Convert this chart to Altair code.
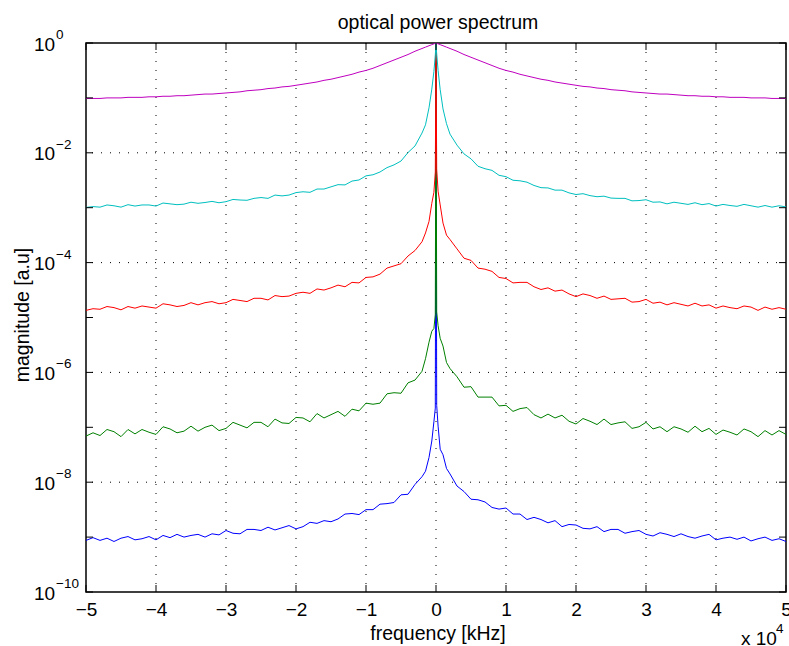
import altair as alt
import pandas as pd

# frequency grid (units of 1e4), positive side; negative side mirrors it
P = [0.01, 0.03, 0.06, 0.1, 0.15, 0.2,
     0.3, 0.4, 0.5, 0.6, 0.7, 0.8, 0.9, 1.0,
     1.1, 1.2, 1.3, 1.4, 1.5, 1.6, 1.7, 1.8,
     1.9, 2.0, 2.1, 2.2, 2.3, 2.4, 2.5, 2.6,
     2.7, 2.8, 2.9, 3.0, 3.1, 3.2, 3.3, 3.4,
     3.5, 3.6, 3.7, 3.8, 3.9, 4.0, 4.1, 4.2,
     4.3, 4.4, 4.5, 4.6, 4.7, 4.8, 4.9, 5.0]

# log10(magnitude); *_L at f = -P[i], *_R at f = +P[i]; peak at f=0 is 10^0
mag_R = [-0.005, -0.016, -0.03, -0.05, -0.075, -0.10,
         -0.15, -0.21, -0.26, -0.31, -0.36, -0.41, -0.46, -0.50,
         -0.53, -0.57, -0.60, -0.63, -0.66, -0.68, -0.71, -0.73,
         -0.75, -0.77, -0.79, -0.80, -0.82, -0.83, -0.85, -0.86,
         -0.87, -0.89, -0.90, -0.91, -0.92, -0.93, -0.93, -0.94,
         -0.95, -0.96, -0.96, -0.97, -0.97, -0.98, -0.98, -0.99,
         -0.99, -0.99, -1.00, -1.00, -1.00, -1.01, -1.01, -1.01]
mag_L = list(mag_R)

cyan_R = [-0.20, -0.50, -0.85, -1.20, -1.47, -1.66,
          -1.86, -2.02, -2.11, -2.245, -2.29, -2.32, -2.41, -2.435,
          -2.50, -2.51, -2.535, -2.595, -2.635, -2.64, -2.68, -2.68,
          -2.73, -2.76, -2.745, -2.78, -2.80, -2.79, -2.825, -2.83,
          -2.83, -2.875, -2.87, -2.855, -2.90, -2.895, -2.93, -2.90,
          -2.92, -2.94, -2.91, -2.945, -2.925, -2.97, -2.94, -2.96,
          -2.975, -2.94, -2.965, -2.99, -2.96, -2.99, -2.965, -2.985]
cyan_L = [-0.22, -0.52, -0.84, -1.18, -1.49, -1.64,
          -1.875, -1.995, -2.15, -2.22, -2.27, -2.35, -2.40, -2.42,
          -2.495, -2.515, -2.585, -2.58, -2.62, -2.66, -2.66, -2.72,
          -2.71, -2.725, -2.77, -2.785, -2.77, -2.83, -2.815, -2.83,
          -2.865, -2.86, -2.85, -2.89, -2.91, -2.885, -2.905, -2.92,
          -2.90, -2.935, -2.945, -2.93, -2.915, -2.97, -2.95, -2.95,
          -2.97, -2.945, -2.99, -2.965, -2.95, -2.99, -2.98, -2.995]

red_R = [-2.30, -2.70, -2.95, -3.28, -3.50, -3.58,
         -3.75, -3.92, -3.96, -4.10, -4.12, -4.16, -4.27, -4.29,
         -4.37, -4.36, -4.36, -4.44, -4.49, -4.46, -4.52, -4.50,
         -4.57, -4.62, -4.57, -4.60, -4.65, -4.61, -4.67, -4.66,
         -4.65, -4.72, -4.71, -4.67, -4.74, -4.72, -4.77, -4.73,
         -4.76, -4.79, -4.74, -4.79, -4.77, -4.83, -4.79, -4.82,
         -4.84, -4.79, -4.81, -4.87, -4.81, -4.85, -4.82, -4.85]
red_L = [-2.35, -2.72, -2.92, -3.25, -3.46, -3.62,
         -3.78, -3.88, -4.02, -4.06, -4.10, -4.21, -4.26, -4.27,
         -4.37, -4.36, -4.44, -4.41, -4.46, -4.50, -4.48, -4.56,
         -4.54, -4.56, -4.61, -4.62, -4.60, -4.68, -4.65, -4.65,
         -4.71, -4.69, -4.67, -4.73, -4.75, -4.71, -4.73, -4.77,
         -4.73, -4.78, -4.80, -4.77, -4.75, -4.83, -4.81, -4.79,
         -4.83, -4.80, -4.86, -4.82, -4.80, -4.85, -4.84, -4.87]

green_R = [-4.90, -5.15, -5.38, -5.52, -5.82, -5.93,
           -6.08, -6.27, -6.26, -6.45, -6.45, -6.45, -6.61, -6.60,
           -6.71, -6.66, -6.64, -6.77, -6.83, -6.76, -6.83, -6.78,
           -6.89, -6.94, -6.84, -6.89, -6.95, -6.85, -6.95, -6.92,
           -6.90, -7.02, -6.99, -6.91, -7.03, -6.99, -7.08, -6.99,
           -7.03, -7.09, -6.98, -7.08, -7.02, -7.13, -7.05, -7.09,
           -7.14, -7.03, -7.08, -7.17, -7.06, -7.14, -7.06, -7.13]
green_L = [-4.95, -5.20, -5.25, -5.45, -5.75, -5.98,
           -6.14, -6.19, -6.38, -6.37, -6.39, -6.56, -6.58, -6.56,
           -6.70, -6.67, -6.80, -6.71, -6.77, -6.83, -6.75, -6.90,
           -6.83, -6.82, -6.93, -6.92, -6.85, -6.99, -6.91, -6.91,
           -7.01, -6.96, -6.91, -7.02, -7.06, -6.96, -7.00, -7.07,
           -6.98, -7.07, -7.10, -7.03, -6.99, -7.13, -7.09, -7.04,
           -7.12, -7.04, -7.17, -7.08, -7.04, -7.15, -7.10, -7.16]

blue_R = [-6.60, -6.98, -7.40, -7.50, -7.75, -7.85,
          -8.07, -8.17, -8.31, -8.32, -8.36, -8.46, -8.49, -8.47,
          -8.58, -8.58, -8.68, -8.64, -8.68, -8.74, -8.70, -8.81,
          -8.77, -8.78, -8.84, -8.85, -8.81, -8.90, -8.86, -8.86,
          -8.93, -8.90, -8.88, -8.95, -8.98, -8.92, -8.95, -8.99,
          -8.94, -8.99, -9.02, -8.98, -8.95, -9.05, -9.02, -9.00,
          -9.04, -9.00, -9.07, -9.03, -9.00, -9.06, -9.03, -9.08]
blue_L = [-6.65, -6.90, -7.25, -7.55, -7.80, -7.90,
          -8.04, -8.22, -8.23, -8.37, -8.39, -8.40, -8.50, -8.50,
          -8.59, -8.57, -8.58, -8.67, -8.72, -8.70, -8.75, -8.73,
          -8.81, -8.85, -8.79, -8.83, -8.87, -8.82, -8.88, -8.86,
          -8.86, -8.94, -8.93, -8.88, -8.96, -8.94, -9.00, -8.95,
          -8.97, -9.00, -8.95, -9.01, -8.97, -9.05, -8.99, -9.03,
          -9.05, -8.99, -9.02, -9.08, -9.02, -9.06, -9.01, -9.06]

x_ticks = [-5, -4, -3, -2, -1, 0, 1, 2, 3, 4, 5]
x_grid = [-4, -3, -2, -1, 0, 1, 2, 3, 4]
y_ticks = [1e0, 1e-1, 1e-2, 1e-3, 1e-4, 1e-5, 1e-6, 1e-7, 1e-8, 1e-9, 1e-10]
y_grid = [1e-2, 1e-4, 1e-6, 1e-8]
y_labels = [1e0, 1e-2, 1e-4, 1e-6, 1e-8, 1e-10]
y_exps = ["0", "\u22122", "\u22124", "\u22126", "\u22128", "\u221210"]

series = [("blue", blue_L, blue_R, "#0000FF"),
          ("green", green_L, green_R, "#008000"),
          ("red", red_L, red_R, "#FF0000"),
          ("cyan", cyan_L, cyan_R, "#00BFBF"),
          ("magenta", mag_L, mag_R, "#BF00BF")]

W, H = 700, 549
FONT = "Liberation Sans"

xs = alt.Scale(domain=[-5, 5], nice=False, zero=False)
ys = alt.Scale(type="log", domain=[1e-10, 1], nice=False)
xaxis = alt.Axis(values=x_ticks, ticks=False, grid=False, domain=False,
                 labelFontSize=19, labelColor="black", labelPadding=8,
                 labelFont=FONT, title=None, labelFlush=False, format="d")
yaxis = alt.Axis(labels=False, ticks=False, grid=False, domain=False, title=None)

X = lambda: alt.X("f:Q", scale=xs, axis=xaxis)
Y = lambda: alt.Y("v:Q", scale=ys, axis=yaxis)

layers = []
# grid
gx = pd.DataFrame({"f": x_grid})
gy = pd.DataFrame({"v": y_grid})
layers.append(alt.Chart(gx).mark_rule(color="#000000", strokeWidth=1, strokeDash=[1, 8]).encode(x=X()))
layers.append(alt.Chart(gy).mark_rule(color="#000000", strokeWidth=1, strokeDash=[1, 8]).encode(y=Y()))

# curves (drawn blue first, magenta last)
for name, L, R, col in series:
    f = [-p for p in reversed(P)] + [0.0] + list(P)
    v = [10 ** e for e in reversed(L)] + [1.0] + [10 ** e for e in R]
    df = pd.DataFrame({"f": f, "v": v})
    layers.append(alt.Chart(df).mark_line(color=col, strokeWidth=1, clip=True).encode(
        x=X(), y=Y(), order="f:Q"))

# ticks (inward)
tx = pd.DataFrame({"f": x_ticks})
ty = pd.DataFrame({"v": y_ticks})
layers.append(alt.Chart(tx).mark_rule(color="black").encode(x=X(), y=alt.value(H), y2=alt.value(H - 7)))
layers.append(alt.Chart(tx).mark_rule(color="black").encode(x=X(), y=alt.value(0), y2=alt.value(7)))
layers.append(alt.Chart(ty).mark_rule(color="black").encode(y=Y(), x=alt.value(0), x2=alt.value(7)))
layers.append(alt.Chart(ty).mark_rule(color="black").encode(y=Y(), x=alt.value(W - 7), x2=alt.value(W)))

# y tick labels 10^n
yl = pd.DataFrame({"v": y_labels, "e": y_exps, "b": ["10"] * len(y_labels)})
layers.append(alt.Chart(yl).mark_text(align="left", baseline="alphabetic", fontSize=19, font=FONT,
                                      color="black", dy=7.5).encode(y=Y(), x=alt.value(-52), text="b:N"))
layers.append(alt.Chart(yl).mark_text(align="left", baseline="alphabetic", fontSize=13.5, font=FONT,
                                      color="black", dy=-4).encode(y=Y(), x=alt.value(-30), text="e:N"))

# texts
one = pd.DataFrame({"t": ["optical power spectrum"]})
layers.append(alt.Chart(one).mark_text(align="center", baseline="alphabetic", fontSize=19.5, font=FONT,
                                       color="black").encode(x=alt.value(352), y=alt.value(-14), text="t:N"))
xl = pd.DataFrame({"t": ["frequency [kHz]"]})
layers.append(alt.Chart(xl).mark_text(align="center", baseline="alphabetic", fontSize=19.5, font=FONT,
                                      color="black").encode(x=alt.value(352), y=alt.value(597), text="t:N"))
yt = pd.DataFrame({"t": ["magnitude [a.u]"]})
layers.append(alt.Chart(yt).mark_text(align="center", baseline="alphabetic", fontSize=19.5, font=FONT,
                                      color="black", angle=270).encode(x=alt.value(-57), y=alt.value(272), text="t:N"))
mult = pd.DataFrame({"t": ["x 10"]})
layers.append(alt.Chart(mult).mark_text(align="left", baseline="alphabetic", fontSize=19, font=FONT,
                                        color="black").encode(x=alt.value(655), y=alt.value(602), text="t:N"))
mexp = pd.DataFrame({"t": ["4"]})
layers.append(alt.Chart(mexp).mark_text(align="left", baseline="alphabetic", fontSize=13.5, font=FONT,
                                        color="black").encode(x=alt.value(690), y=alt.value(590), text="t:N"))

chart = alt.layer(*layers).properties(
    width=W, height=H,
    autosize=alt.AutoSizeParams(type="none"),
    padding={"left": 86, "top": 43, "right": 3, "bottom": 54},
    background="white",
).configure_view(stroke="black", strokeWidth=1.5).configure_axis(labelFont=FONT)

chart.save("out.html", embed_options={"renderer": "svg", "actions": False})
